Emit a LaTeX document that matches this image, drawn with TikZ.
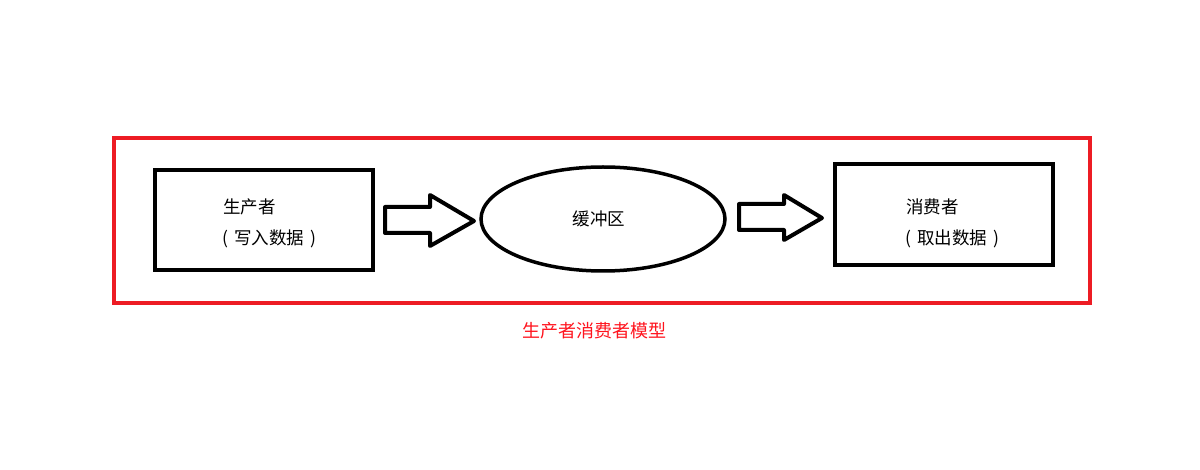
\documentclass[tikz,border=0pt]{standalone}
\usepackage{fontspec}
\newfontfamily\cjk{Noto Sans CJK SC}
\usetikzlibrary{shapes.geometric}
\definecolor{framered}{RGB}{237,28,36}
\definecolor{captionred}{RGB}{255,20,30}
\tikzset{
  box/.style={draw=black, line width=4pt, rectangle, inner sep=0pt},
  buffer/.style={draw=black, line width=3.5pt, ellipse, inner sep=0pt, minimum width=244pt, minimum height=104pt},
  label/.style={font=\cjk\fontsize{17.5}{19}\selectfont, inner sep=0pt, anchor=west, text=black},
  blockarrow/.style={draw=black, line width=4pt, fill=white, line join=round},
}
\begin{document}
\begin{tikzpicture}[x=1pt,y=-1pt]
\useasboundingbox (0,0) rectangle (1200,470);
% outer red frame
\draw[framered, line width=4pt] (114,138) rectangle (1090,303);
% nodes
\node[box, minimum width=218pt, minimum height=100pt] (prod) at (264,220) {};
\node[buffer] (buf) at (603,219) {};
\node[box, minimum width=218pt, minimum height=101pt] (cons) at (944,214.5) {};
% labels
\node[label] (prodA) at (223,207) {生产者};
\node[label] (prodB) at (222,239) {(\hspace{0.35em}写入数据\hspace{0.35em})};
\node[label, anchor=center] (bufL) at (599,219) {缓冲区};
\node[label] (consA) at (906,207) {消费者};
\node[label] (consB) at (905,239) {(\hspace{0.35em}取出数据\hspace{0.35em})};
\node[font=\cjk\fontsize{18}{20}\selectfont, text=captionred, inner sep=0pt] (cap) at (594,331) {生产者消费者模型};
% block arrows
\draw[blockarrow] (385,207) -- (430,207) -- (430,195) -- (474,221) -- (430,246) -- (430,233) -- (385,233) -- cycle;
\draw[blockarrow] (739,204) -- (784,204) -- (784,195) -- (822,218) -- (784,240) -- (784,230) -- (739,230) -- cycle;
\end{tikzpicture}
\end{document}
